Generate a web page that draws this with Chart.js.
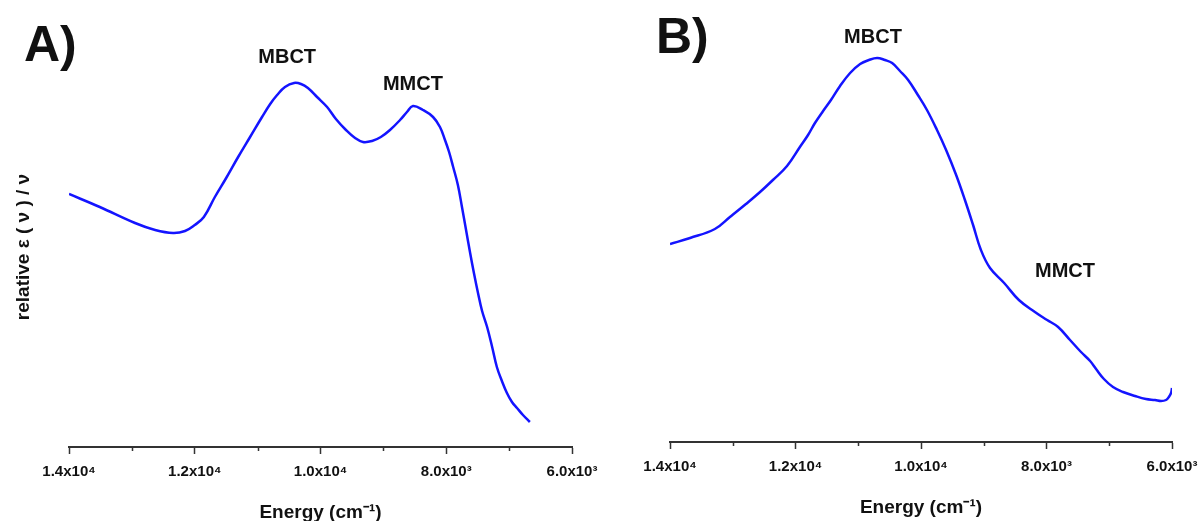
<!DOCTYPE html>
<html>
<head>
<meta charset="utf-8">
<title>MBCT / MMCT absorption bands</title>
<script src="https://cdn.jsdelivr.net/npm/chart.js@4.4.1/dist/chart.umd.min.js"></script>
<style>
  html, body { margin: 0; padding: 0; background: #fff; }
  #wrap { position: relative; width: 1203px; height: 521px; overflow: hidden; }
  #chart-a { position: absolute; left: 0; top: 0; }
  #chart-b { position: absolute; left: 600px; top: 0; }
</style>
</head>
<body>
<div id="wrap">
  <canvas id="chart-a" width="600" height="521"></canvas>
  <canvas id="chart-b" width="603" height="521"></canvas>
</div>
<script>
// energy in cm-1, values are relative eps(nu)/nu (arbitrary 0-100 scale)
var energyA = [14000, 13510, 12950, 12630, 12345, 12155, 12000, 11855, 11680, 11500,
  11310, 11120, 10930, 10800, 10690, 10565, 10420, 10310, 10200, 10055,
  9895, 9755, 9595, 9450, 9325, 9180, 9040, 8895, 8735, 8625,
  8530, 8370, 8210, 8100, 8020, 7955, 7890, 7815, 7750, 7685,
  7620, 7560, 7495, 7430, 7350, 7270, 7195, 7115, 7035, 6955,
  6875, 6780, 6670];
var valuesA = [63.25, 60, 56, 54.25, 53.5, 54, 55.5, 57.5, 62.5, 67.25,
  72.5, 77.5, 82.5, 85.75, 88, 90, 91, 90.75, 89.75, 87.5,
  85, 82, 79.25, 77.25, 76.25, 76.5, 77.5, 79.25, 81.75, 83.75,
  85.25, 84.25, 82.5, 80, 76.75, 73.75, 70, 65.5, 60, 54.25,
  48.5, 43.5, 38.5, 34, 30, 25, 20, 16.5, 13.5, 11.25,
  9.75, 8, 6.25];

var energyB = [14000, 13680, 13285, 13045, 12790, 12565, 12360, 12135, 11930, 11800,
  11690, 11560, 11435, 11290, 11130, 10970, 10830, 10700, 10575, 10460,
  10335, 10205, 10050, 9905, 9745, 9600, 9440, 9300, 9170, 9045,
  8900, 8675, 8440, 8185, 7990, 7815, 7625, 7450, 7305, 7210,
  7085, 6940, 6780, 6590, 6415, 6270, 6175, 6095, 6050, 6015,
  6000];
var valuesB = [49.5, 51, 53.25, 56.25, 59.5, 62.5, 65.5, 69, 73.75, 76.75,
  79.75, 82.75, 85.5, 89, 92.25, 94.5, 95.5, 96, 95.5, 94.75,
  92.75, 90.5, 86.75, 83, 78, 73, 66.75, 60.5, 54.25, 48,
  43.5, 39.75, 35.5, 32.5, 30.5, 28.75, 25.5, 22.5, 20.25, 18.25,
  15.75, 13.75, 12.5, 11.5, 10.75, 10.5, 10.25, 10.5, 11.25, 12.25,
  13.5];

var xTickValues = [14000, 12000, 10000, 8000, 6000];
var xTickLabels = ['1.4x10\u2074', '1.2x10\u2074', '1.0x10\u2074', '8.0x10\u00B3', '6.0x10\u00B3'];
var xMinorTicks = [13000, 11000, 9000, 7000];

var notesA = [
  { text: 'MBCT', x: 10530, y: 97.5 },
  { text: 'MMCT', x: 8530, y: 90.75 }
];
var notesB = [
  { text: 'MBCT', x: 10765, y: 101.25 },
  { text: 'MMCT', x: 7705, y: 42.75 }
];

(function () {
  'use strict';

  var FONT = '"Liberation Sans", Arial, Helvetica, sans-serif';
  var LINE = '#1414ff';
  var AXIS = '#333333';

  Chart.defaults.font.family = FONT;
  Chart.defaults.color = '#111';

  // panel letter, band labels and the short minor ticks
  var panelText = {
    id: 'panelText',
    afterDraw: function (chart, args, opts) {
      var ctx = chart.ctx;
      var xs = chart.scales.x;
      var ys = chart.scales.y;
      ctx.save();

      ctx.strokeStyle = AXIS;
      ctx.lineWidth = 1.5;
      ctx.beginPath();
      xMinorTicks.forEach(function (v) {
        var px = Math.round(xs.getPixelForValue(v)) + 0.5;
        ctx.moveTo(px, xs.top);
        ctx.lineTo(px, xs.top + 4);
      });
      ctx.stroke();

      ctx.fillStyle = '#111';
      ctx.textAlign = 'center';
      ctx.textBaseline = 'middle';
      ctx.font = 'bold 20px ' + FONT;
      opts.notes.forEach(function (n) {
        ctx.fillText(n.text, xs.getPixelForValue(n.x), ys.getPixelForValue(n.y));
      });

      ctx.textAlign = 'left';
      ctx.textBaseline = 'alphabetic';
      ctx.font = 'bold 50px ' + FONT;
      ctx.fillText(opts.letter, opts.letterX, opts.letterY);
      ctx.restore();
    }
  };

  function makeChart(cfg) {
    var canvas = document.getElementById(cfg.id);
    var points = cfg.energy.map(function (e, i) { return { x: e, y: cfg.values[i] }; });

    var yScale = cfg.yTitle ? {
      min: 0,
      max: 100,
      ticks: { display: false },
      grid: { display: false },
      border: { display: false },
      title: {
        display: true,
        text: cfg.yTitle,
        font: { size: 19, weight: 'bold' },
        padding: { top: 12, bottom: 0 }
      },
      afterFit: function (scale) { scale.width = cfg.plotLeft; }
    } : { display: false, min: 0, max: 100 };

    return new Chart(canvas.getContext('2d'), {
      type: 'line',
      data: {
        datasets: [{
          data: points,
          borderColor: LINE,
          borderWidth: 2.5,
          pointRadius: 0,
          fill: false,
          tension: 0.4
        }]
      },
      options: {
        responsive: false,
        animation: false,
        layout: {
          padding: { left: cfg.yTitle ? 0 : cfg.plotLeft, right: cfg.padRight, top: cfg.plotTop, bottom: 0 }
        },
        plugins: {
          legend: { display: false },
          tooltip: { enabled: false },
          panelText: { notes: cfg.notes, letter: cfg.letter, letterX: cfg.letterX, letterY: cfg.letterY }
        },
        scales: {
          x: {
            type: 'linear',
            reverse: true,
            min: 6000,
            max: 14000,
            afterBuildTicks: function (scale) {
              scale.ticks = xTickValues.map(function (v) { return { value: v }; });
            },
            ticks: {
              autoSkip: false,
              maxRotation: 0,
              padding: 9,
              color: '#111',
              font: { size: 15, weight: 'bold' },
              callback: function (value) {
                var i = xTickValues.indexOf(value);
                return i >= 0 ? xTickLabels[i] : '';
              }
            },
            grid: {
              drawOnChartArea: false,
              drawTicks: true,
              tickLength: 7,
              tickWidth: 1.5,
              tickColor: AXIS
            },
            border: { display: true, color: AXIS, width: 2 },
            title: {
              display: true,
              text: 'Energy (cm\u207B\u00B9)',
              font: { size: 19, weight: 'bold' },
              padding: { top: 0, bottom: cfg.titlePad }
            },
            afterFit: function (scale) {
              scale.height = cfg.axisHeight;
              // edge labels fit inside the canvas padding already
              scale.paddingLeft = 0;
              scale.paddingRight = 0;
            }
          },
          y: yScale
        }
      },
      plugins: [panelText]
    });
  }

  makeChart({
    id: 'chart-a', energy: energyA, values: valuesA, notes: notesA,
    letter: 'A)', letterX: 24, letterY: 61,
    yTitle: 'relative \u03B5 ( \u03BD ) / \u03BD',
    plotLeft: 69, padRight: 28, plotTop: 47, axisHeight: 74, titlePad: -3
  });

  makeChart({
    id: 'chart-b', energy: energyB, values: valuesB, notes: notesB,
    letter: 'B)', letterX: 56, letterY: 53,
    plotLeft: 70, padRight: 31, plotTop: 42, axisHeight: 79, titlePad: 2
  });
})();
</script>
</body>
</html>
